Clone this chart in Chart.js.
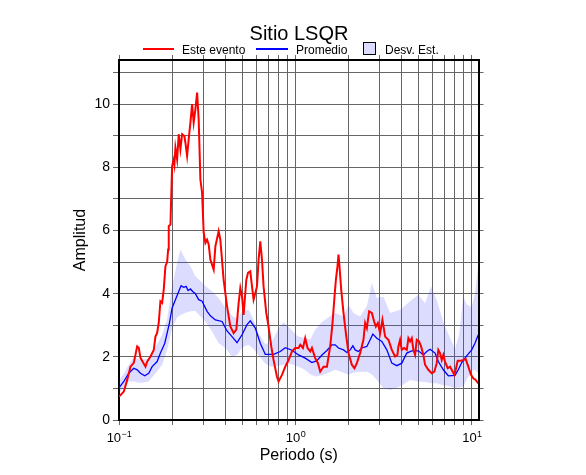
<!DOCTYPE html>
<html>
<head>
<meta charset="utf-8">
<title>Sitio LSQR</title>
<script src="https://cdn.jsdelivr.net/npm/chart.js@4.4.1/dist/chart.umd.min.js"></script>
<style>
  html, body { margin: 0; padding: 0; background: #fff; }
  canvas { display: block; }
</style>
</head>
<body>
<canvas id="chart" width="586" height="475"></canvas>
<script>
const FONT = '"Liberation Sans", Arial, Helvetica, sans-serif';
const BAND_COLOR = 'rgba(60, 60, 255, 0.18)';

// Este evento (periodo en s, amplitud)
const eventoPeriodo = [0.1, 0.1065, 0.1113, 0.1162, 0.1213, 0.1268, 0.1294, 0.1323, 0.1413, 0.1444,
  0.1508, 0.1574, 0.1609, 0.1645, 0.168, 0.1717, 0.1756, 0.1793, 0.1833, 0.1874,
  0.1899, 0.1914, 0.1957, 0.2, 0.2043, 0.2061, 0.2088, 0.2135, 0.218, 0.2229,
  0.2279, 0.2348, 0.2379, 0.2432, 0.2483, 0.2539, 0.2596, 0.265, 0.271, 0.2771,
  0.2829, 0.2892, 0.2957, 0.3019, 0.3087, 0.3156, 0.3223, 0.3295, 0.344, 0.3517,
  0.3671, 0.3753, 0.3918, 0.4096, 0.4276, 0.4464, 0.4623, 0.4764, 0.4871, 0.498,
  0.5085, 0.5267, 0.5385, 0.5548, 0.5672, 0.5792, 0.6054, 0.6182, 0.6319, 0.6461,
  0.6597, 0.6833, 0.7041, 0.7293, 0.7517, 0.7859, 0.8025, 0.8388, 0.8757, 0.9142,
  0.9556, 0.997, 1.041, 1.065, 1.103, 1.136, 1.171, 1.213, 1.24, 1.294,
  1.341, 1.382, 1.442, 1.508, 1.574, 1.622, 1.665, 1.695, 1.731, 1.754,
  1.777, 1.817, 1.872, 1.931, 1.998, 2.088, 2.16, 2.229, 2.327, 2.429,
  2.483, 2.539, 2.616, 2.71, 2.792, 2.855, 2.93, 3.019, 3.111, 3.223,
  3.364, 3.517, 3.671, 3.783, 3.833, 3.918, 4.006, 4.128, 4.276, 4.366,
  4.464, 4.564, 4.66, 4.764, 4.871, 5.019, 5.152, 5.308, 5.427, 5.665,
  5.922, 6.125, 6.319, 6.453, 6.597, 6.745, 6.888, 7.041, 7.293, 7.517,
  7.686, 7.951, 8.098, 8.311, 8.643, 8.941, 9.225, 9.544, 9.885, 10.18,
  10.51, 10.87];
const eventoAmp = [0.74, 0.90, 1.27, 1.69, 1.81, 2.33, 2.29, 1.97, 1.69, 1.85,
  2.01, 2.22, 2.64, 2.76, 3.08, 3.76, 3.71, 4.13, 4.87, 5.0,
  5.4, 6.14, 6.19, 8.04, 8.25, 8.10, 8.62, 8.25, 9.05, 8.57,
  9.05, 8.99, 8.78, 8.36, 8.89, 9.42, 10.0, 9.42, 9.84, 10.37,
  9.52, 7.62, 7.20, 5.93, 5.61, 5.71, 5.56, 5.08, 4.76, 5.50,
  5.98, 5.71, 4.44, 3.60, 2.96, 2.75, 2.86, 3.70, 4.18, 3.91,
  3.33, 4.44, 4.66, 4.71, 4.23, 3.81, 4.23, 5.08, 5.66, 5.08,
  4.23, 3.39, 2.96, 2.33, 1.90, 1.37, 1.22, 1.43, 1.69, 1.90,
  2.17, 2.28, 2.28, 2.38, 2.28, 2.59, 2.28, 2.17, 2.28, 1.96,
  1.80, 1.53, 1.69, 1.69, 2.33, 3.07, 3.91, 4.44, 4.87, 5.24,
  4.87, 4.13, 3.39, 2.75, 2.12, 1.75, 1.64, 1.80, 2.12, 2.54,
  3.07, 2.91, 3.44, 3.39, 3.12, 2.96, 3.07, 2.75, 3.17, 2.64,
  2.54, 2.22, 2.01, 2.06, 2.33, 2.54, 2.22, 2.28, 2.22, 2.59,
  2.49, 2.59, 2.22, 2.06, 2.54, 2.49, 2.33, 2.06, 1.75, 1.59,
  1.48, 1.53, 1.80, 2.22, 2.12, 1.90, 2.06, 1.85, 1.64, 1.69,
  1.59, 1.43, 1.59, 1.88, 1.88, 1.90, 1.93, 1.69, 1.43, 1.32,
  1.27, 1.16];

// Promedio
const promPeriodo = [0.1, 0.1065, 0.1136, 0.1213, 0.1268, 0.1323, 0.14, 0.1474, 0.1541, 0.1645,
  0.1717, 0.1817, 0.1874, 0.1931, 0.2, 0.2088, 0.218, 0.2249, 0.2327, 0.2401,
  0.2464, 0.2539, 0.2616, 0.271, 0.2829, 0.2957, 0.3156, 0.3295, 0.3517, 0.3838,
  0.4096, 0.4372, 0.4666, 0.498, 0.5316, 0.5548, 0.5922, 0.6319, 0.6745, 0.7517,
  0.8204, 0.8757, 0.9556, 1.041, 1.136, 1.24, 1.323, 1.413, 1.508, 1.609,
  1.68, 1.754, 1.872, 1.957, 2.043, 2.116, 2.18, 2.276, 2.379, 2.539,
  2.65, 2.745, 2.892, 3.087, 3.295, 3.517, 3.753, 4.006, 4.276, 4.564,
  4.972, 5.308, 5.548, 5.792, 6.182, 6.453, 6.888, 7.353, 8.025, 8.373,
  8.757, 9.341, 9.974, 10.41, 10.87];
const promAmp = [1.02, 1.22, 1.48, 1.64, 1.59, 1.48, 1.40, 1.48, 1.69, 1.85,
  2.12, 2.43, 2.75, 3.07, 3.55, 3.81, 4.07, 4.25, 4.20, 4.23,
  4.10, 4.15, 4.07, 4.00, 3.81, 3.76, 3.44, 3.30, 3.17, 3.12,
  2.82, 2.64, 2.45, 2.70, 3.02, 3.14, 2.91, 2.43, 2.08, 2.08,
  2.17, 2.29, 2.21, 2.06, 1.96, 1.82, 1.88, 2.06, 2.20, 2.38,
  2.38, 2.28, 2.22, 2.14, 2.22, 2.35, 2.22, 2.17, 2.28, 2.33,
  2.54, 2.72, 2.59, 2.49, 2.22, 1.80, 1.72, 1.80, 2.12, 2.19,
  2.19, 2.06, 2.17, 2.24, 2.12, 1.85, 1.59, 1.40, 1.41, 1.59,
  1.82, 2.03, 2.22, 2.43, 2.70];

// Desv. Est. (limites superior e inferior)
const bandPeriodo = [0.1, 0.1074, 0.1136, 0.1213, 0.1323, 0.1474, 0.1609, 0.1756, 0.1874, 0.2,
  0.2135, 0.2229, 0.2379, 0.2539, 0.271, 0.3087, 0.3369, 0.3671, 0.4006, 0.4372,
  0.4666, 0.4998, 0.5427, 0.5792, 0.6182, 0.6745, 0.7362, 0.8025, 0.8564, 0.9341,
  1.024, 1.107, 1.213, 1.294, 1.413, 1.539, 1.68, 1.872, 1.998, 2.132,
  2.327, 2.539, 2.71, 2.892, 3.152, 3.44, 3.918, 4.464, 4.972, 5.427,
  5.868, 6.319, 6.888, 7.517, 8.025, 8.454, 8.941, 9.378, 9.974, 10.41,
  10.87];
const bandHigh = [1.25, 1.5, 1.75, 2.0, 1.9, 1.95, 2.3, 2.7, 3.2, 4.23,
  4.97, 5.4, 5.08, 4.87, 4.55, 4.25, 4.07, 3.86, 3.55, 3.3,
  3.2, 3.44, 3.49, 3.17, 2.75, 2.4, 2.49, 2.9, 3.1, 2.9,
  2.66, 2.6, 2.55, 2.86, 3.1, 3.25, 3.4, 3.28, 3.65, 3.39,
  3.28, 3.6, 4.34, 3.86, 3.9, 3.39, 3.49, 3.76, 3.97, 3.7,
  4.23, 3.8, 3.1, 2.6, 2.25, 2.7, 3.9, 3.65, 3.58, 4.0,
  4.9];
const bandLow = [0.85, 1.05, 1.22, 1.22, 1.17, 1.22, 1.48, 1.75, 2.22, 2.9,
  3.25, 3.32, 3.4, 3.44, 3.45, 3.12, 2.8, 2.43, 2.28, 2.01,
  2.06, 2.3, 2.38, 2.25, 2.05, 1.78, 1.69, 1.72, 1.75, 1.78,
  1.7, 1.62, 1.45, 1.38, 1.42, 1.5, 1.59, 1.5, 1.43, 1.5,
  1.53, 1.53, 1.45, 1.27, 1.01, 0.95, 1.06, 1.27, 1.22, 1.2,
  1.16, 1.16, 1.1, 1.06, 1.01, 1.03, 1.06, 1.3, 1.55, 1.59,
  1.48];

// Ejes
const xMin = 0.1, xMax = 10.9;
const yMin = 0, yMax = 11.4;
const xGridTicks = [0.1, 0.2, 0.3, 0.4, 0.5, 0.6, 0.7, 0.8, 0.9, 1, 2, 3, 4, 5, 6, 7, 8, 9, 10];
const xLabelTicks = [0.1, 1, 10];
const xLabelExp = ['\u22121', '0', '1'];
const yTicks = [0, 1, 2, 3, 4, 5, 6, 7, 8, 9, 10, 11];
const yLabelTicks = [0, 2, 4, 6, 8, 10];

function toPoints(xs, ys) {
  return xs.map((x, i) => ({ x: x, y: ys[i] }));
}

// Title, legend and 10^n labels
const decorations = {
  id: 'decorations',
  afterDraw(chart) {
    const ctx = chart.ctx;
    const xs = chart.scales.x;
    ctx.save();
    ctx.fillStyle = '#000';
    ctx.textBaseline = 'alphabetic';

    xLabelTicks.forEach((v, i) => {
      const px = xs.getPixelForValue(v);
      ctx.font = '13px ' + FONT;
      const wBase = ctx.measureText('10').width;
      ctx.font = '9px ' + FONT;
      const wExp = ctx.measureText(xLabelExp[i]).width;
      const left = px - (wBase + wExp) / 2;
      ctx.textAlign = 'left';
      ctx.font = '13px ' + FONT;
      ctx.fillText('10', left, 442);
      ctx.font = '9px ' + FONT;
      ctx.fillText(xLabelExp[i], left + wBase + 0.5, 437);
    });

    ctx.textAlign = 'center';
    ctx.font = '20px ' + FONT;
    ctx.fillText('Sitio LSQR', 299, 40);

    ctx.textAlign = 'left';
    ctx.font = '12px ' + FONT;
    ctx.lineWidth = 2;
    ctx.strokeStyle = '#ff0000';
    ctx.beginPath(); ctx.moveTo(143, 49); ctx.lineTo(174, 49); ctx.stroke();
    ctx.fillText('Este evento', 182, 53.5);
    ctx.strokeStyle = '#0000ff';
    ctx.beginPath(); ctx.moveTo(256, 49); ctx.lineTo(288, 49); ctx.stroke();
    ctx.fillText('Promedio', 296, 53.5);
    ctx.fillStyle = 'rgb(220, 220, 255)';
    ctx.fillRect(363.5, 42.5, 12, 12);
    ctx.lineWidth = 1;
    ctx.strokeStyle = '#000';
    ctx.strokeRect(363.5, 42.5, 12, 12);
    ctx.fillStyle = '#000';
    ctx.fillText('Desv. Est.', 385, 53.5);
    ctx.restore();
  }
};

const gridColor = '#666';

new Chart(document.getElementById('chart'), {
  type: 'line',
  data: {
    datasets: [
      {
        label: 'Este evento',
        data: toPoints(eventoPeriodo, eventoAmp),
        borderColor: '#ff0000',
        borderWidth: 2,
        pointRadius: 0,
        fill: false,
        tension: 0
      },
      {
        label: 'Promedio',
        data: toPoints(promPeriodo, promAmp),
        borderColor: '#0000ff',
        borderWidth: 1.3,
        pointRadius: 0,
        fill: false,
        tension: 0
      },
      {
        label: 'Desv. Est.',
        data: toPoints(bandPeriodo, bandHigh),
        borderWidth: 0,
        borderColor: 'rgba(0,0,0,0)',
        backgroundColor: BAND_COLOR,
        pointRadius: 0,
        fill: '+1',
        tension: 0
      },
      {
        label: 'Desv. Est. inf',
        data: toPoints(bandPeriodo, bandLow),
        borderWidth: 0,
        borderColor: 'rgba(0,0,0,0)',
        pointRadius: 0,
        fill: false,
        tension: 0
      }
    ]
  },
  options: {
    responsive: false,
    animation: false,
    events: [],
    layout: { padding: 0 },
    plugins: {
      legend: { display: false },
      title: { display: false },
      tooltip: { enabled: false }
    },
    scales: {
      x: {
        type: 'logarithmic',
        position: 'bottom',
        min: xMin,
        max: xMax,
        afterBuildTicks: (s) => { s.ticks = xGridTicks.map(v => ({ value: v })); },
        afterFit: (s) => { s.height = 55; },
        grid: { color: gridColor, lineWidth: 1, tickLength: 5 },
        border: { display: true, color: '#000', width: 2 },
        ticks: { autoSkip: false, maxRotation: 0, callback: () => '' },
        title: {
          display: true,
          text: 'Periodo (s)',
          color: '#000',
          font: { family: FONT, size: 16 },
          padding: { top: 0, bottom: 10 }
        }
      },
      x2: {
        type: 'logarithmic',
        position: 'top',
        min: xMin,
        max: xMax,
        afterBuildTicks: (s) => { s.ticks = xGridTicks.map(v => ({ value: v })); },
        afterFit: (s) => { s.height = 60; },
        grid: { color: gridColor, lineWidth: 1, tickLength: 5, drawOnChartArea: false },
        border: { display: true, color: '#000', width: 2 },
        ticks: { display: false, autoSkip: false }
      },
      y: {
        type: 'linear',
        position: 'left',
        min: yMin,
        max: yMax,
        afterBuildTicks: (s) => { s.ticks = yTicks.map(v => ({ value: v })); },
        afterFit: (s) => { s.width = 119; },
        grid: { color: gridColor, lineWidth: 1, tickLength: 6 },
        border: { display: true, color: '#000', width: 2 },
        ticks: {
          autoSkip: false,
          padding: 3,
          color: '#000',
          font: { family: FONT, size: 14 },
          callback: (v) => yLabelTicks.includes(v) ? String(v) : ''
        },
        title: {
          display: true,
          text: 'Amplitud',
          color: '#000',
          font: { family: FONT, size: 16 },
          padding: { top: 71, bottom: 0 }
        }
      },
      y2: {
        type: 'linear',
        position: 'right',
        min: yMin,
        max: yMax,
        afterBuildTicks: (s) => { s.ticks = yTicks.map(v => ({ value: v })); },
        afterFit: (s) => { s.width = 107.5; },
        grid: { color: gridColor, lineWidth: 1, tickLength: 5, drawOnChartArea: false },
        border: { display: true, color: '#000', width: 2 },
        ticks: { display: false, autoSkip: false }
      }
    }
  },
  plugins: [decorations]
});
</script>
</body>
</html>
